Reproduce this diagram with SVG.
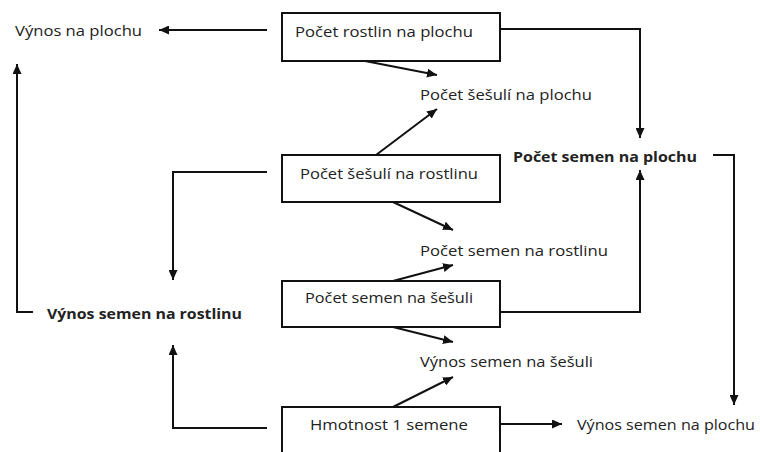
<svg xmlns="http://www.w3.org/2000/svg" width="760" height="452" viewBox="0 0 760 452">
<style>
.box{fill:#fff;stroke:#111;stroke-width:2}
.t{font-family:"Open Sans","Liberation Sans",sans-serif;font-size:14px;fill:#222}
.b{font-weight:bold}
.c{fill:none;stroke:#111;stroke-width:2}
</style>
<defs>
<marker id="ah" markerUnits="userSpaceOnUse" markerWidth="11" markerHeight="9" refX="10" refY="4.5" orient="auto">
<path d="M0,0 L10,4.5 L0,9 z" fill="#111"/>
</marker>
</defs>
<rect width="760" height="452" fill="#fff"/>
<g id="connectors">
<path class="c" d="M267,30 H159" marker-end="url(#ah)"/>
<path class="c" d="M33,312 H17 V64" marker-end="url(#ah)"/>
<path class="c" d="M267,172 H173 V280" marker-end="url(#ah)"/>
<path class="c" d="M267,428 H173 V345" marker-end="url(#ah)"/>
<path class="c" d="M500,29 H640 V138" marker-end="url(#ah)"/>
<path class="c" d="M500,312 H640 V170" marker-end="url(#ah)"/>
<path class="c" d="M713,155 H734 V405" marker-end="url(#ah)"/>
<path class="c" d="M500,424 H562" marker-end="url(#ah)"/>
<path class="c" d="M365,61 L437,75" marker-end="url(#ah)" stroke-width="1.6"/>
<path class="c" d="M376,155 L437,109" marker-end="url(#ah)" stroke-width="1.6"/>
<path class="c" d="M393,202 L453,230" marker-end="url(#ah)" stroke-width="1.6"/>
<path class="c" d="M393,281 L453,265" marker-end="url(#ah)" stroke-width="1.6"/>
<path class="c" d="M393,327 L453,342" marker-end="url(#ah)" stroke-width="1.6"/>
<path class="c" d="M393,407 L453,377" marker-end="url(#ah)" stroke-width="1.6"/>
</g>
<g id="n-vynos-plocha"><text class="t" x="15" y="36" textLength="127" lengthAdjust="spacingAndGlyphs">Výnos na plochu</text></g>
<g id="n-rostlin"><rect class="box" x="282" y="13" width="218" height="48"/><text class="t" x="295" y="37" textLength="178" lengthAdjust="spacingAndGlyphs">Počet rostlin na plochu</text></g>
<g id="n-sesuli-plocha"><text class="t" x="420" y="100" textLength="172" lengthAdjust="spacingAndGlyphs">Počet šešulí na plochu</text></g>
<g id="n-semen-plocha"><text class="t b" x="513" y="162" textLength="184" lengthAdjust="spacingAndGlyphs">Počet semen na plochu</text></g>
<g id="n-sesuli-rostlina"><rect class="box" x="282" y="155" width="218" height="47"/><text class="t" x="300" y="179" textLength="178" lengthAdjust="spacingAndGlyphs">Počet šešulí na rostlinu</text></g>
<g id="n-semen-rostlina"><text class="t" x="420" y="256" textLength="188" lengthAdjust="spacingAndGlyphs">Počet semen na rostlinu</text></g>
<g id="n-semen-sesule"><rect class="box" x="282" y="281" width="218" height="46"/><text class="t" x="305" y="303" textLength="168" lengthAdjust="spacingAndGlyphs">Počet semen na šešuli</text></g>
<g id="n-vynos-rostlina"><text class="t b" x="47" y="319" textLength="195" lengthAdjust="spacingAndGlyphs">Výnos semen na rostlinu</text></g>
<g id="n-vynos-sesule"><text class="t" x="420" y="367" textLength="173" lengthAdjust="spacingAndGlyphs">Výnos semen na šešuli</text></g>
<g id="n-hmotnost"><rect class="box" x="282" y="407" width="218" height="60"/><text class="t" x="310" y="430" textLength="158" lengthAdjust="spacingAndGlyphs">Hmotnost 1 semene</text></g>
<g id="n-vynos-semen-plocha"><text class="t" x="577" y="430" textLength="178" lengthAdjust="spacingAndGlyphs">Výnos semen na plochu</text></g>
</svg>
